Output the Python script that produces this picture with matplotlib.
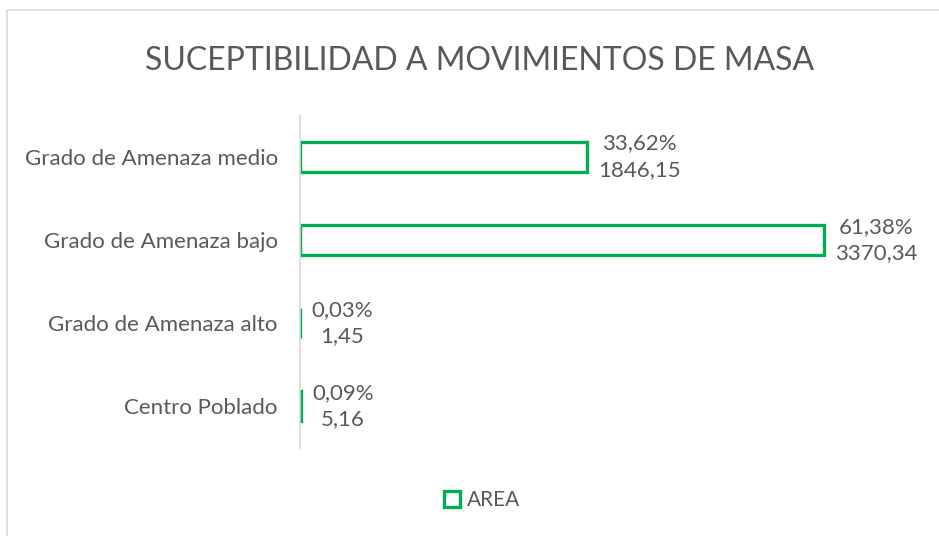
import matplotlib
matplotlib.use("Agg")
import matplotlib.pyplot as plt
from matplotlib.patches import Rectangle
from matplotlib.lines import Line2D

categories = ["Centro Poblado", "Grado de Amenaza alto", "Grado de Amenaza bajo", "Grado de Amenaza medio"]
areas = [5.16, 1.45, 3370.34, 1846.15]
percents = ["0,09%", "0,03%", "61,38%", "33,62%"]
area_labels = ["5,16", "1,45", "3370,34", "1846,15"]
title = "SUCEPTIBILIDAD A MOVIMIENTOS DE MASA"
legend_label = "AREA"

green = "#00B050"
gray = "#595959"
plt.rcParams['font.family'] = ['Lato', 'DejaVu Sans']

W, H = 939, 536
fig = plt.figure(figsize=(W/100, H/100), dpi=100)
fig.patch.set_facecolor("white")
fig.patches.append(Rectangle((7/W, -0.1), 1.2, (1 - 10/H) + 0.1, transform=fig.transFigure,
                             fill=False, edgecolor="#D9D9D9", linewidth=1.2))

ax = fig.add_axes([300/W, 1 - 448/H, (922-300)/W, (448-115)/H])
ypos = list(range(len(categories)))
ax.barh(ypos, areas, height=0.36, facecolor="white", edgecolor=green, linewidth=2.4)
ax.set_xlim(0, 4000)
ax.set_ylim(-0.5, 3.5)
ax.set_yticks(ypos)
ax.set_yticklabels(categories, fontsize=16, color=gray)
ax.tick_params(axis="y", length=0, pad=16)
ax.set_xticks([])
for s in ["top", "right", "bottom"]:
    ax.spines[s].set_visible(False)
ax.spines["left"].set_color("#D9D9D9")
ax.spines["left"].set_linewidth(1.2)

for y, v, p, a in zip(ypos, areas, percents, area_labels):
    ax.annotate(p + "\n" + a, xy=(v, y), xytext=(8, 0), textcoords="offset points",
                ha="left", va="center", fontsize=16, color=gray, linespacing=1.4,
                multialignment="center")

fig.text(480/W, 1 - 61/H, title, ha="center", va="center", fontsize=23, color=gray)

handle = Line2D([], [], marker="s", linestyle="none", markersize=11,
                markerfacecolor="white", markeredgecolor=green, markeredgewidth=2.4)
fig.legend([handle], [legend_label], loc="center", bbox_to_anchor=(482/W, 1 - 500/H),
           frameon=False, fontsize=15, labelcolor=gray, handletextpad=0.3, handlelength=0.8)

fig.savefig("out.png", dpi=100)
